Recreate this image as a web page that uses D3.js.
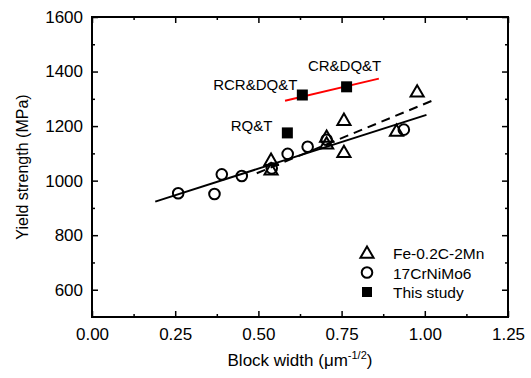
<!DOCTYPE html>
<html>
<head>
<meta charset="utf-8">
<script src="https://cdn.jsdelivr.net/npm/d3@7"></script>
<style>
  body { margin: 0; background: #fff; }
  svg { font-family: "Liberation Sans", Arial, sans-serif; }
</style>
</head>
<body>
<svg width="531" height="378"></svg>
<script>
// Fe-0.2C-2Mn (open triangles)
var triX = [0.538, 0.538, 0.705, 0.705, 0.757, 0.757, 0.915, 0.977];
var triY = [1075, 1040, 1160, 1135, 1222, 1104, 1182, 1326];
// 17CrNiMo6 (open circles)
var circX = [0.259, 0.368, 0.390, 0.450, 0.540, 0.588, 0.648, 0.705, 0.937];
var circY = [954, 951, 1023, 1017, 1045, 1098, 1124, 1150, 1187];
// This study (filled squares)
var studyX = [0.587, 0.632, 0.765];
var studyY = [1175, 1314, 1344];
var studyLabels = ["RQ&T", "RCR&DQ&T", "CR&DQ&T"];
// fit lines [x0, y0, x1, y1]
var fitCirc = [0.19, 923, 1.005, 1241];
var fitTri = [0.495, 1027, 1.02, 1292];
var fitStudy = [0.58, 1293, 0.862, 1374];

var xTicks = [0, 0.25, 0.5, 0.75, 1.0, 1.25];
var yTicks = [600, 800, 1000, 1200, 1400, 1600];
var legendLabels = ["Fe-0.2C-2Mn", "17CrNiMo6", "This study"];

var svg = d3.select("svg");
var mLeft = 92, mTop = 17, width = 416, height = 300;

var x = d3.scaleLinear().domain([0, 1.25]).range([0, width]);
var y = d3.scaleLinear().domain([500, 1600]).range([height, 0]);

var g = svg.append("g").attr("transform", "translate(" + mLeft + "," + mTop + ")");

// minor ticks
var xMinor = d3.range(0.125, 1.25, 0.25);
var yMinor = d3.range(700, 1600, 200);

function ticks(axisFn, scale, vals, len, fmt) {
  return axisFn(scale).tickValues(vals).tickSizeInner(-len).tickSizeOuter(0).tickFormat(fmt);
}

// bottom
var bx = g.append("g").attr("transform", "translate(0," + height + ")")
  .call(ticks(d3.axisBottom, x, xTicks, 6, d3.format(".2f")));
g.append("g").attr("transform", "translate(0," + height + ")")
  .call(ticks(d3.axisBottom, x, xMinor, 3, ""));
// top
g.append("g").call(ticks(d3.axisTop, x, xTicks, 6, ""));
g.append("g").call(ticks(d3.axisTop, x, xMinor, 3, ""));
// left
var ly = g.append("g").call(ticks(d3.axisLeft, y, yTicks, 6, d3.format("d")));
g.append("g").call(ticks(d3.axisLeft, y, yMinor, 3, ""));
// right
g.append("g").attr("transform", "translate(" + width + ",0)")
  .call(ticks(d3.axisRight, y, yTicks, 6, ""));
g.append("g").attr("transform", "translate(" + width + ",0)")
  .call(ticks(d3.axisRight, y, yMinor, 3, ""));

g.selectAll(".domain").remove();
g.selectAll(".tick line").attr("stroke", "#000").attr("stroke-width", 1.5);
g.selectAll(".tick text").attr("fill", "#000").style("font-size", "17px")
  .style("font-family", "Liberation Sans, Arial, sans-serif");
bx.selectAll(".tick text").attr("y", 8).attr("dy", "0.9em");
ly.selectAll(".tick text").attr("x", -9);

// frame
g.append("rect").attr("width", width).attr("height", height)
  .attr("fill", "none").attr("stroke", "#000").attr("stroke-width", 2);

// axis titles
svg.append("text")
  .attr("transform", "translate(28," + (mTop + height / 2) + ")rotate(-90)")
  .attr("text-anchor", "middle").style("font-size", "16px")
  .text("Yield strength (MPa)");

var xt = svg.append("text")
  .attr("x", mLeft + width / 2).attr("y", 366)
  .attr("text-anchor", "middle").style("font-size", "17px");
xt.append("tspan").text("Block width (\u03bcm");
xt.append("tspan").attr("dy", -7).style("font-size", "11px").text("-1/2");
xt.append("tspan").attr("dy", 7).text(")");

// fit lines
function fitLine(f, color, dash) {
  g.append("line")
    .attr("x1", x(f[0])).attr("y1", y(f[1]))
    .attr("x2", x(f[2])).attr("y2", y(f[3]))
    .attr("stroke", color).attr("stroke-width", 2)
    .attr("stroke-dasharray", dash);
}
fitLine(fitCirc, "#000", null);
fitLine(fitTri, "#000", "9,6");
fitLine(fitStudy, "#ff0000", null);

var tri = d3.symbol().type(d3.symbolTriangle).size(75);

g.selectAll(".tri").data(triX).enter().append("path")
  .attr("d", tri)
  .attr("transform", function (d, i) { return "translate(" + x(d) + "," + (y(triY[i]) + 1) + ")"; })
  .attr("fill", "none").attr("stroke", "#000").attr("stroke-width", 2);

g.selectAll(".circ").data(circX).enter().append("circle")
  .attr("cx", function (d) { return x(d); })
  .attr("cy", function (d, i) { return y(circY[i]); })
  .attr("r", 5.3)
  .attr("fill", "none").attr("stroke", "#000").attr("stroke-width", 2);

g.selectAll(".sq").data(studyX).enter().append("rect")
  .attr("x", function (d) { return x(d) - 5.5; })
  .attr("y", function (d, i) { return y(studyY[i]) - 5.5; })
  .attr("width", 11).attr("height", 11).attr("fill", "#000");

// annotations
var annDx = [-15, -5, -2];
var annDy = [-2, -5, -16];
var annAnchor = ["end", "end", "middle"];
g.selectAll(".ann").data(studyLabels).enter().append("text")
  .attr("x", function (d, i) { return x(studyX[i]) + annDx[i]; })
  .attr("y", function (d, i) { return y(studyY[i]) + annDy[i]; })
  .attr("text-anchor", function (d, i) { return annAnchor[i]; })
  .style("font-size", "15px")
  .text(function (d) { return d; });

// legend
var lg = svg.append("g").attr("transform", "translate(367,253)");
lg.append("path").attr("d", tri).attr("transform", "translate(0,1)")
  .attr("fill", "none").attr("stroke", "#000").attr("stroke-width", 2);
lg.append("circle").attr("cy", 19.5).attr("r", 5.3)
  .attr("fill", "none").attr("stroke", "#000").attr("stroke-width", 2);
lg.append("rect").attr("x", -5).attr("y", 34).attr("width", 10).attr("height", 10).attr("fill", "#000");
lg.selectAll(".lt").data(legendLabels).enter().append("text")
  .attr("x", 26).attr("y", function (d, i) { return i * 19.5 + 6; })
  .style("font-size", "15.5px")
  .text(function (d) { return d; });
</script>
</body>
</html>
